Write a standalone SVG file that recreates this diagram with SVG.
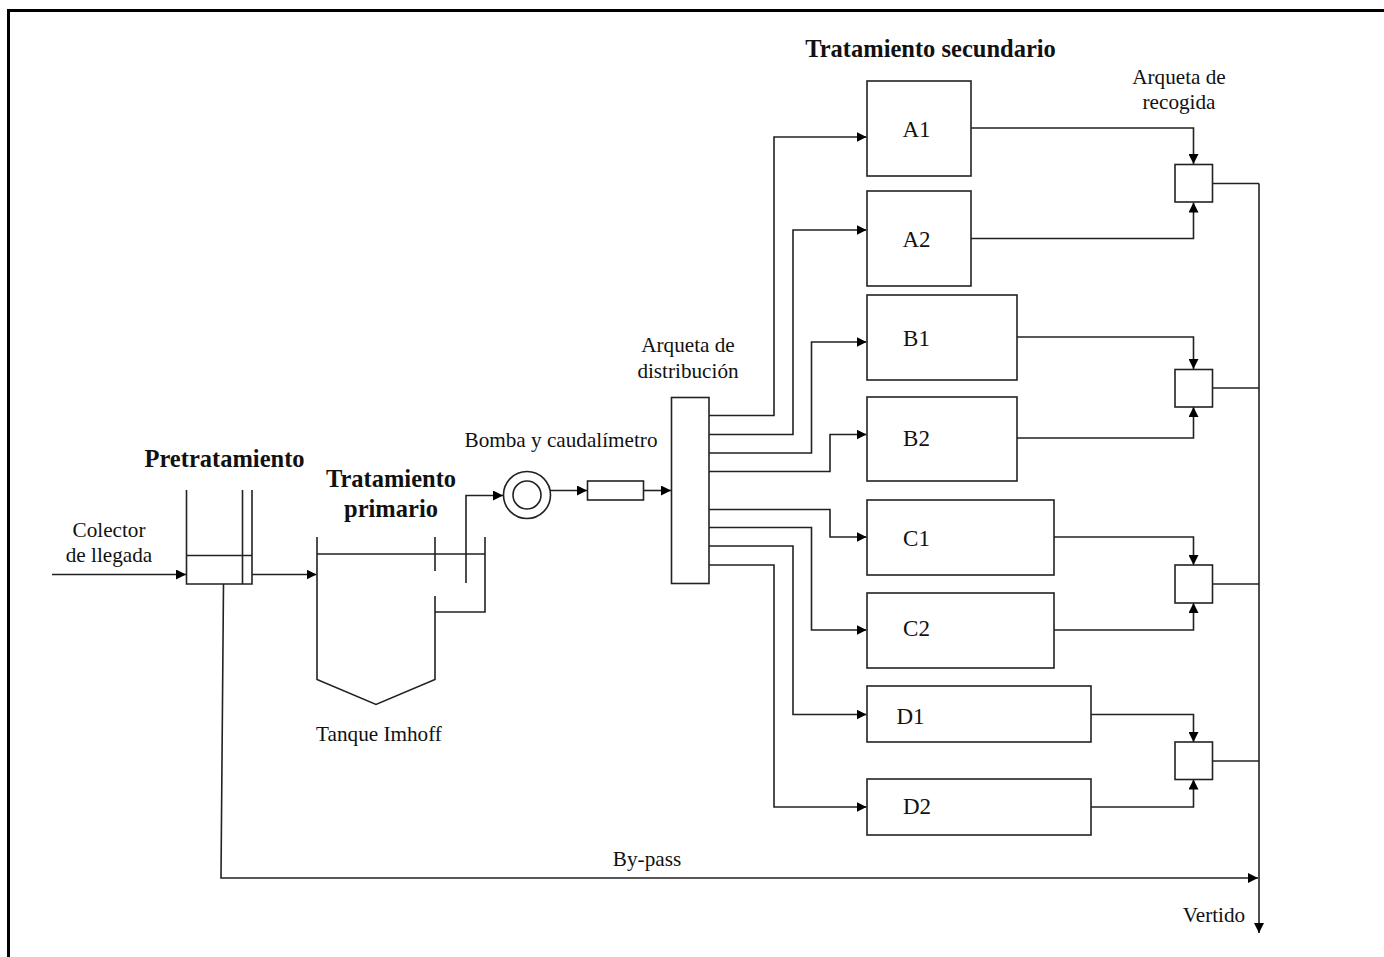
<svg xmlns="http://www.w3.org/2000/svg" width="1384" height="957" viewBox="0 0 1384 957">
<style>
text{font-family:"Liberation Serif","Times New Roman",serif;fill:#111;font-size:21.2px}
.c{text-anchor:middle}
.b{font-weight:bold;font-size:24.5px}
.n{font-size:23px}
.s{fill:#fff;stroke:#222;stroke-width:1.6}
.o{fill:none;stroke:#222;stroke-width:1.6}
.l{fill:none;stroke:#222;stroke-width:1.6;stroke-linejoin:miter}
.a{marker-end:url(#ah)}
</style>
<defs>
<marker id="ah" markerUnits="userSpaceOnUse" markerWidth="11" markerHeight="10" refX="10" refY="5" orient="auto"><path d="M0 0L10 5L0 10Z" fill="#000"/></marker>
</defs>
<rect width="1384" height="957" fill="#fff"/>
<path id="frame" d="M8.5 957V10.5H1384" fill="none" stroke="#000" stroke-width="3"/>
<g id="connectors">
<path class="l a" d="M52 574.5H186"/>
<path class="l a" d="M252 574.5H316.5"/>
<path class="l a" d="M223.5 584L221 878H1258"/>
<path class="l a" d="M466 583V495.5H503"/>
<path class="l a" d="M550 490.5H587"/>
<path class="l a" d="M644 490.5H671"/>
<path class="l a" d="M709 415.5H774V137H866.5"/>
<path class="l a" d="M709 434.5H793V230H866.5"/>
<path class="l a" d="M709 453H811.5V342H866.5"/>
<path class="l a" d="M709 471.5H830V434.5H866.5"/>
<path class="l a" d="M709 509.5H830V537H866.5"/>
<path class="l a" d="M709 527.5H811.5V630H866.5"/>
<path class="l a" d="M709 546H793V714.5H866.5"/>
<path class="l a" d="M709 565H774V807H866.5"/>
<path class="l a" d="M971 128H1193.5V164"/>
<path class="l a" d="M971 238.5H1193.5V202.5"/>
<path class="l a" d="M1017 337H1193.5V369"/>
<path class="l a" d="M1017 438H1193.5V407"/>
<path class="l a" d="M1054 537H1193.5V565"/>
<path class="l a" d="M1054 630H1193.5V603"/>
<path class="l a" d="M1091 714.5H1193.5V742"/>
<path class="l a" d="M1091 807H1193.5V779.5"/>
<path class="l" d="M1212.5 183.5H1259"/>
<path class="l" d="M1212.5 388H1259"/>
<path class="l" d="M1212.5 584H1259"/>
<path class="l" d="M1212.5 761H1259"/>
<path class="l a" d="M1259 183.5V933"/>
</g>
<g id="pretratamiento">
<path class="o" d="M186.5 490V584H252V490M242.5 490V584M186.5 555.5H252"/>
<text class="b c" x="224.5" y="467">Pretratamiento</text>
</g>
<g id="colector">
<text class="c" x="109" y="537">Colector</text>
<text class="c" x="109" y="562">de llegada</text>
</g>
<g id="tanque">
<path class="o" d="M317 537V679.5L376 704.5L435 679.5V596M435 537V571M317 554H485M485 537V612H435"/>
<text class="b c" x="391" y="487">Tratamiento</text>
<text class="b c" x="391" y="517">primario</text>
<text class="c" x="379" y="741">Tanque Imhoff</text>
</g>
<g id="bomba">
<circle class="s" cx="527" cy="495" r="23.5"/>
<circle class="s" cx="527" cy="495" r="14"/>
<text class="c" x="561" y="447">Bomba y caudalímetro</text>
</g>
<g id="caudalimetro"><rect class="s" x="587.5" y="481" width="56" height="19"/></g>
<g id="arqueta-distribucion">
<rect class="s" x="671.5" y="397.5" width="37.5" height="186"/>
<text class="c" x="688" y="352">Arqueta de</text>
<text class="c" x="688" y="378">distribución</text>
</g>
<g id="titulo-secundario"><text class="b c" x="930.5" y="57">Tratamiento secundario</text></g>
<g id="A1"><rect class="s" x="867" y="81" width="104" height="95"/><text class="n c" x="916.5" y="137">A1</text></g>
<g id="A2"><rect class="s" x="867" y="191" width="104" height="95"/><text class="n c" x="916.5" y="247">A2</text></g>
<g id="B1"><rect class="s" x="867" y="295" width="150" height="85"/><text class="n c" x="916.5" y="346">B1</text></g>
<g id="B2"><rect class="s" x="867" y="397" width="150" height="84"/><text class="n c" x="916.5" y="446">B2</text></g>
<g id="C1"><rect class="s" x="867" y="500" width="187" height="75"/><text class="n c" x="916.5" y="546">C1</text></g>
<g id="C2"><rect class="s" x="867" y="593" width="187" height="75"/><text class="n c" x="916.5" y="636">C2</text></g>
<g id="D1"><rect class="s" x="867" y="686" width="224" height="56"/><text class="n c" x="910.5" y="724">D1</text></g>
<g id="D2"><rect class="s" x="867" y="779" width="224" height="56"/><text class="n c" x="917" y="814">D2</text></g>
<g id="arqueta-recogida-1">
<rect class="s" x="1175" y="164.5" width="37.5" height="37.5"/>
<text class="c" x="1179" y="84">Arqueta de</text>
<text class="c" x="1179" y="109">recogida</text>
</g>
<g id="arqueta-recogida-2"><rect class="s" x="1175" y="369.5" width="37.5" height="37.5"/></g>
<g id="arqueta-recogida-3"><rect class="s" x="1175" y="565" width="37.5" height="38"/></g>
<g id="arqueta-recogida-4"><rect class="s" x="1175" y="742" width="37.5" height="37.5"/></g>
<g id="by-pass"><text class="c" x="647" y="866">By-pass</text></g>
<g id="vertido"><text class="c" x="1214" y="922">Vertido</text></g>
</svg>
